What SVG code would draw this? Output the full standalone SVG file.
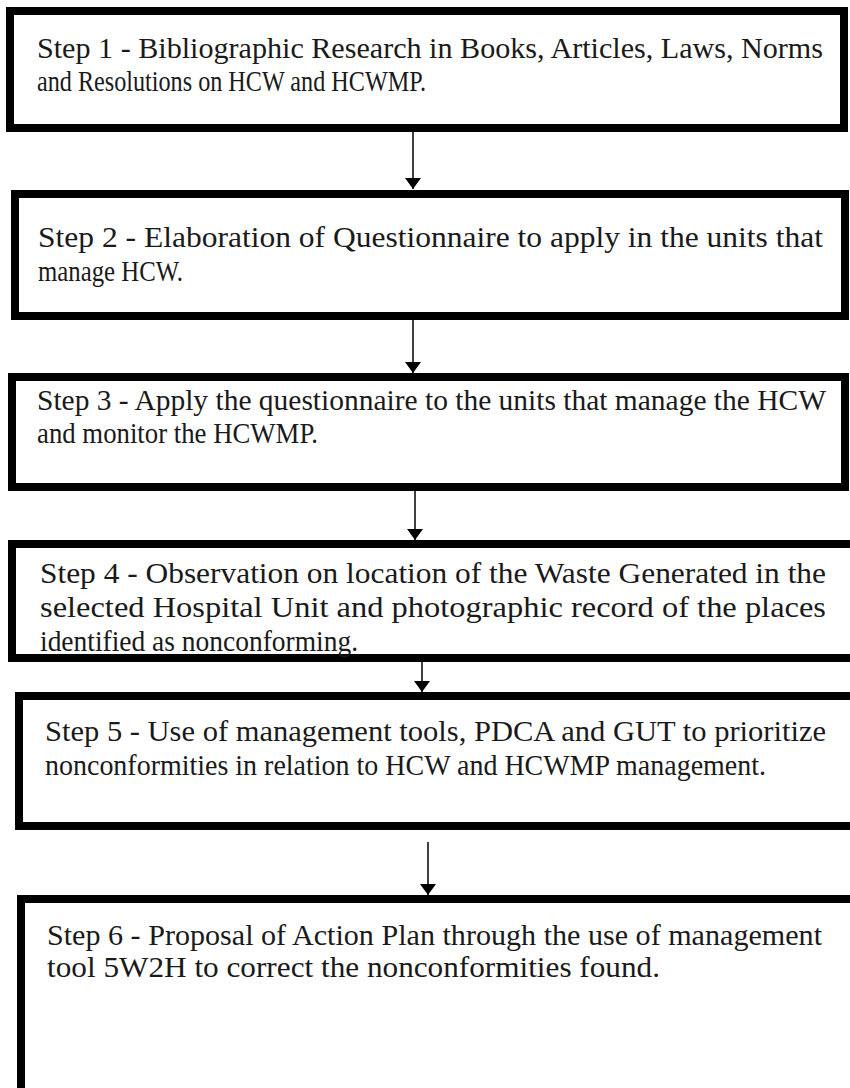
<svg xmlns="http://www.w3.org/2000/svg" width="850" height="1088" viewBox="0 0 850 1088">
<style>
.box{fill:#fff;stroke:#000;stroke-width:8}
.t{font-family:"Liberation Serif","Times New Roman",serif;font-size:30px;fill:#1a1a1a}
.c{stroke:#000;stroke-width:1.5;fill:none}
</style>
<defs>
<marker id="ah" viewBox="0 0 11 16" refX="11" refY="8" markerWidth="11" markerHeight="16" markerUnits="userSpaceOnUse" orient="auto">
<path d="M0,0 L11,8 L0,16 Z" fill="#000"/>
</marker>
</defs>
<rect width="850" height="1088" fill="#fff"/>
<g id="step1">
<rect class="box" x="10" y="11" width="834" height="117"/>
<text class="t" x="37" y="58" textLength="786" lengthAdjust="spacingAndGlyphs">Step 1 - Bibliographic Research in Books, Articles, Laws, Norms</text>
<text class="t" x="37" y="91" textLength="389" lengthAdjust="spacingAndGlyphs">and Resolutions on HCW and HCWMP.</text>
</g>
<g id="step2">
<rect class="box" x="15" y="194" width="830" height="122"/>
<text class="t" x="38" y="247" textLength="785" lengthAdjust="spacingAndGlyphs">Step 2 - Elaboration of Questionnaire to apply in the units that</text>
<text class="t" x="38" y="281" textLength="145" lengthAdjust="spacingAndGlyphs">manage HCW.</text>
</g>
<g id="step3">
<rect class="box" x="12" y="377" width="833" height="110"/>
<text class="t" x="37" y="410" textLength="789" lengthAdjust="spacingAndGlyphs">Step 3 - Apply the questionnaire to the units that manage the HCW</text>
<text class="t" x="37" y="443" textLength="281" lengthAdjust="spacingAndGlyphs">and monitor the HCWMP.</text>
</g>
<g id="step4">
<rect class="box" x="12" y="544" width="845" height="114"/>
<text class="t" x="40" y="583" textLength="786" lengthAdjust="spacingAndGlyphs">Step 4 - Observation on location of the Waste Generated in the</text>
<text class="t" x="40" y="617" textLength="786" lengthAdjust="spacingAndGlyphs">selected Hospital Unit and photographic record of the places</text>
<text class="t" x="40" y="651" textLength="318" lengthAdjust="spacingAndGlyphs">identified as nonconforming.</text>
</g>
<g id="step5">
<rect class="box" x="19" y="696" width="840" height="130"/>
<text class="t" x="45" y="741" textLength="781" lengthAdjust="spacingAndGlyphs">Step 5 - Use of management tools, PDCA and GUT to prioritize</text>
<text class="t" x="45" y="775" textLength="721" lengthAdjust="spacingAndGlyphs">nonconformities in relation to HCW and HCWMP management.</text>
</g>
<g id="step6">
<rect class="box" x="21" y="899" width="840" height="200"/>
<text class="t" x="47" y="945" textLength="775" lengthAdjust="spacingAndGlyphs">Step 6 - Proposal of Action Plan through the use of management</text>
<text class="t" x="47" y="977" textLength="613" lengthAdjust="spacingAndGlyphs">tool 5W2H to correct the nonconformities found.</text>
</g>
<g id="connectors">
<line class="c" x1="413" y1="132" x2="413" y2="189" marker-end="url(#ah)"/>
<line class="c" x1="413" y1="320" x2="413" y2="373" marker-end="url(#ah)"/>
<line class="c" x1="415" y1="491" x2="415" y2="540" marker-end="url(#ah)"/>
<line class="c" x1="422" y1="662" x2="422" y2="692" marker-end="url(#ah)"/>
<line class="c" x1="428" y1="842" x2="428" y2="895" marker-end="url(#ah)"/>
</g>
</svg>
